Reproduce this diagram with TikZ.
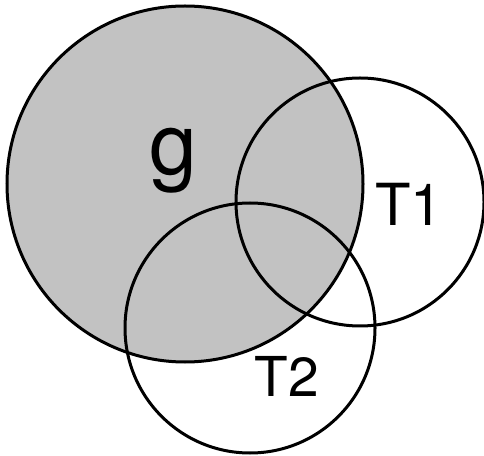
\documentclass[tikz,border=0pt]{standalone}
\usepackage{fontspec}
\setmainfont{TeX Gyre Heros}
\begin{document}
\begin{tikzpicture}[x=1pt,y=1pt,
  setline/.style={line width=3pt,draw=black},
  lbl/.style={inner sep=0pt,font=\fontsize{#1}{#1}\selectfont}]
\useasboundingbox (0,0) rectangle (484,455);
\coordinate (cg) at (185,271);
\coordinate (c1) at (360,253);
\coordinate (c2) at (250,127);
\fill[black!24] (cg) circle[radius=178];
\draw[setline] (cg) circle[radius=178];
\draw[setline] (c1) circle[radius=124];
\draw[setline] (c2) circle[radius=125];
\node[lbl=86] (g) at (173,294) {g};
\node[lbl=58] (t1) at (409,251) {T1};
\node[lbl=55] (t2) at (287,79) {T2};
\end{tikzpicture}
\end{document}
